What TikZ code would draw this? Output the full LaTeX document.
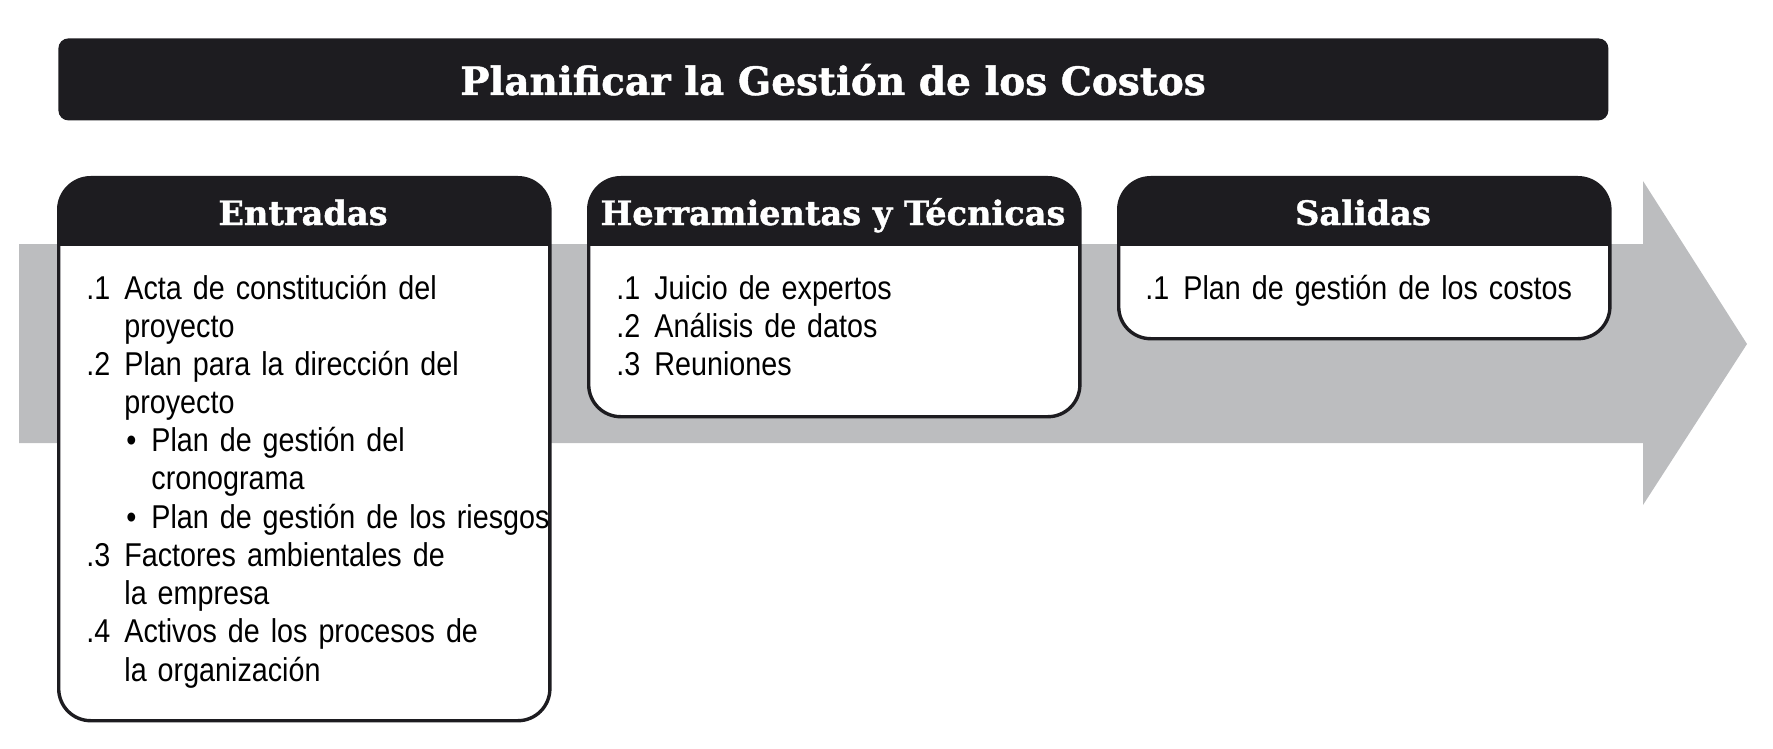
\documentclass[tikz,border=0pt]{standalone}
\usepackage{fontspec}
\setmainfont{Liberation Sans}[FakeStretch=0.87]
\newfontfamily\slab{DejaVu Serif}[BoldFeatures={FakeBold=1.2}]

\definecolor{arrowgray}{RGB}{188,189,191}
\definecolor{hdrblack}{RGB}{29,28,32}

\newcommand{\nr}[1]{\makebox[19pt][l]{#1}}
\newcommand{\ind}{\hspace*{19pt}}
\newcommand{\bul}{\hspace*{20pt}\makebox[12.5pt][l]{\textbullet}}
\newcommand{\bind}{\hspace*{32.5pt}}

\begin{document}
\begin{tikzpicture}[x=0.5pt, y=-0.5pt,
    stage/.style={draw=hdrblack, line width=1.7pt, fill=white, rounded corners=16pt,
        anchor=north west, inner sep=0pt, minimum width=245.6pt,
        path picture={\fill[hdrblack, sharp corners] (path picture bounding box.north west)
            rectangle ([yshift=-34pt]path picture bounding box.north east);}},
    hdr/.style={text=white, anchor=base, inner sep=0pt, font=\slab\bfseries\fontsize{16.8}{19}\selectfont},
    items/.style={anchor=base west, inner sep=0pt, text width=300pt, align=left,
        font=\fontsize{16.5}{19.1}\selectfont}]
    \useasboundingbox (0,0) rectangle (1773,749);
    \fill[arrowgray] (19,244) -- (1643,244) -- (1643,181) -- (1747,344)
        -- (1643,505) -- (1643,443) -- (19,443) -- cycle;
    \node[fill=hdrblack, rounded corners=5pt, anchor=north west, inner sep=0pt,
        minimum width=775pt, minimum height=41pt] (titlebar) at (58,38) {};
    \node[hdr, font=\slab\bfseries\fontsize{19.5}{22}\selectfont] (title) at (833,95)
        {Planificar la Gestión de los Costos};
    \foreach \x/\h/\name/\lab in {57/271.5/entradas/Entradas,
        587/119.5/herram/Herramientas y Técnicas, 1117/80.5/salidas/Salidas}
    {
        \node[stage, minimum height=\h pt] (\name) at (\x,176) {};
        \node[hdr] (\name T) at (\x+246,225) {\lab};
    }
    \node[items] (entradasL) at (86,299) {\nr{.1}Acta de constitución del\\
        \ind proyecto\\
        \nr{.2}Plan para la dirección del\\
        \ind proyecto\\
        \bul Plan de gestión del\\
        \bind cronograma\\
        \bul Plan de gestión de los riesgos\\
        \nr{.3}Factores ambientales de\\
        \ind la empresa\\
        \nr{.4}Activos de los procesos de\\
        \ind la organización};
    \node[items] (herramL) at (616,299) {\nr{.1}Juicio de expertos\\
        \nr{.2}Análisis de datos\\
        \nr{.3}Reuniones};
    \node[items] (salidasL) at (1145,299) {\nr{.1}Plan de gestión de los costos};
\end{tikzpicture}
\end{document}
